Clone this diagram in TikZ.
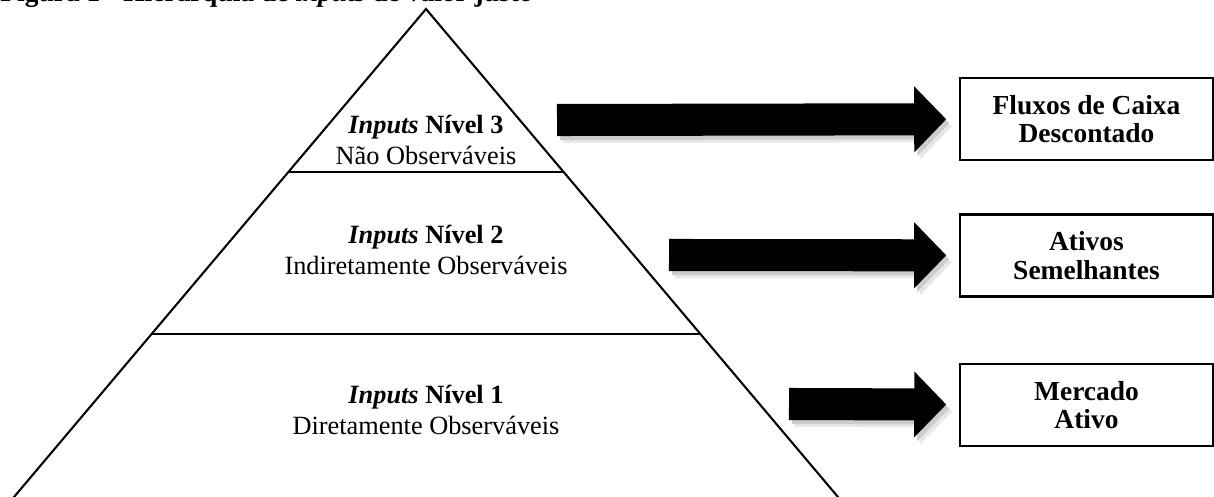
\documentclass[tikz,border=0pt]{standalone}
\usepackage{fontspec}
\setmainfont{Liberation Serif}
\usetikzlibrary{arrows.meta, calc}

\begin{document}
\begin{tikzpicture}[x=0.4367pt, y=-0.4367pt,
      lvl/.style={align=center, font=\fontsize{11.5}{13.5}\selectfont,
        inner sep=0pt},
      res/.style={rectangle, draw, line width=1pt, minimum width=110.5pt,
        minimum height=35.8pt, align=center, inner sep=2pt,
      font=\fontsize{12}{12.5}\selectfont\bfseries},
      pyr/.style={draw, line width=0.9pt},
      bigarr/.style={-{Triangle[length=14pt, width=28pt]}, draw,
        line width=14pt, shorten >=5.5pt},
      bigshd/.style={bigarr, draw=#1}
    ]
    \useasboundingbox (0,0) rectangle (1214,497);
    % === Title (cut at the top of the page) ===
    \node[font=\fontsize{12}{14}\selectfont\bfseries, anchor=base west,
      inner sep=0pt] (title) at (0,2)
    {Figura 1 - Hierarquia de \textit{inputs} de valor justo};
    % === Pyramid ===
    \coordinate (apex) at (426, 9);
    \coordinate (bl) at (14, 497);
    \coordinate (br) at (838, 497);
    \draw[pyr] ($(apex)!1.05!(bl)$) -- (apex) -- ($(apex)!1.05!(br)$);
    \draw[pyr] ($(apex)!1/3!(bl)$) -- ($(apex)!1/3!(br)$);
    \draw[pyr] ($(apex)!2/3!(bl)$) -- ($(apex)!2/3!(br)$);
    % level texts
    \node[lvl] (n3) at (426, 140)
    {\textbf{\textit{Inputs} Nível 3}\\Não Observáveis};
    \node[lvl] (n2) at (426, 250)
    {\textbf{\textit{Inputs} Nível 2}\\Indiretamente Observáveis};
    \node[lvl] (n1) at (426, 410)
    {\textbf{\textit{Inputs} Nível 1}\\Diretamente Observáveis};
    % === Result boxes ===
    \node[res] (fcd) at (1086.5, 119) {Fluxos de Caixa\\Descontado};
    \node[res] (ase) at (1086.5, 255.5) {Ativos\\Semelhantes};
    \node[res] (mat) at (1086.5, 405) {Mercado\\Ativo};
    % === Block arrows ===
    \coordinate (s3) at (557, 120);
    \coordinate (s2) at (669, 255);
    \coordinate (s1) at (789, 404);
    \draw[bigshd=gray!18, transform canvas={shift={(6,7)}}] (s3) -- (fcd);
    \draw[bigshd=gray!40, transform canvas={shift={(3,4)}}] (s3) -- (fcd);
    \draw[bigarr] (s3) -- (fcd);
    \draw[bigshd=gray!18, transform canvas={shift={(6,7)}}] (s2) -- (ase);
    \draw[bigshd=gray!40, transform canvas={shift={(3,4)}}] (s2) -- (ase);
    \draw[bigarr] (s2) -- (ase);
    \draw[bigshd=gray!18, transform canvas={shift={(6,7)}}] (s1) -- (mat);
    \draw[bigshd=gray!40, transform canvas={shift={(3,4)}}] (s1) -- (mat);
    \draw[bigarr] (s1) -- (mat);
  \end{tikzpicture}
\end{document}
